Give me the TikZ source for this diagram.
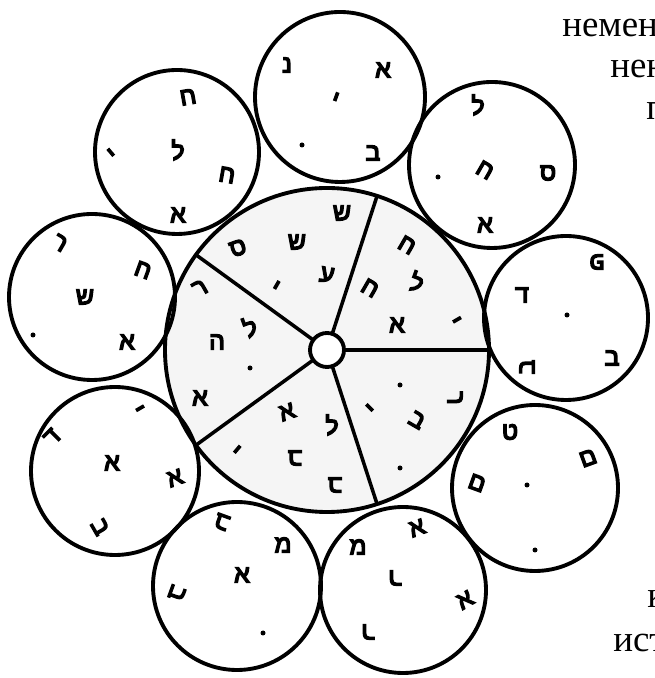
\documentclass[tikz,border=0pt]{standalone}
\usepackage{fontspec}
\newfontfamily\hebfont[Script=Hebrew, FakeBold=6]{Liberation Sans}
\newfontfamily\rusfont{Liberation Serif}

\begin{document}
\begin{tikzpicture}[x=0.02cm, y=0.02cm, line cap=round,
    ring/.style={circle, draw, line width=2.2pt, inner sep=0pt, outer sep=0pt, minimum size=2*#1*0.02cm},
    hl/.style={font=\hebfont\fontsize{14}{14}\selectfont, inner sep=0pt},
    ru/.style={font=\rusfont\fontsize{21}{21}\selectfont, inner sep=0pt, anchor=base west}]
        \def\wheelR{162} \def\hubR{17}
        \useasboundingbox (0,0) rectangle (654,678);
        \clip (0,0) rectangle (654,678);
        % central wheel
        \coordinate (O) at (327,328);
        \fill[black!4] (O) circle (\wheelR);
        \node[ring=\wheelR] (wheel) at (O) {};
        \node[ring=\hubR, fill=white] (hub) at (O) {};
        \draw[line width=2pt] (hub.0) -- (wheel.0);
        \draw[line width=2pt] (hub.72) -- (wheel.72);
        \draw[line width=2pt] (hub.144) -- (wheel.144);
        \draw[line width=2pt] (hub.216) -- (wheel.216);
        \draw[line width=2pt] (hub.288) -- (wheel.288);
        % outer rings
        \node[ring=85] (ring1) at (340,581) {};
        \node[ring=82] (ring2) at (177,526) {};
        \node[ring=83] (ring3) at (92,381) {};
        \node[ring=84] (ring4) at (115,207) {};
        \node[ring=84] (ring5) at (237,92) {};
        \node[ring=83] (ring6) at (403,88) {};
        \node[ring=83] (ring7) at (535,190) {};
        \node[ring=82] (ring8) at (566,360) {};
        \node[ring=83] (ring9) at (492,513) {};
        % letters of the wheel
        \node[hl, rotate=20] (s1) at (238,430) {ס};
        \node[hl] (s2) at (297,436) {ש};
        \node[hl] (s3) at (342,465) {ש};
        \node[hl, rotate=-10] (s4) at (327,403) {ע};
        \node[hl, rotate=-30] (s5) at (275,390) {י};
        \node[hl, rotate=-30] (r1) at (407,433) {ח};
        \node[hl, rotate=-30] (r2) at (370,390) {ח};
        \node[hl, rotate=-20] (r3) at (417,396) {ל};
        \node[hl] (r4) at (397,353) {א};
        \node[hl, rotate=120] (r5) at (460,360) {י};
        \fill (400,293) circle (2.5) (400,210) circle (2.5);
        \node[hl, rotate=-90] (q1) at (455,280) {ר};
        \node[hl, rotate=45] (q2) at (372,268) {י};
        \node[hl, rotate=-30] (q3) at (417,258) {ב};
        \node[hl, rotate=20] (l1) at (287,266) {א};
        \node[hl] (l2) at (332,253) {ל};
        \node[hl, rotate=-40] (l3) at (235,226) {י};
        \node[hl, rotate=180] (l4) at (295,220) {ב};
        \node[hl, rotate=180] (l5) at (335,193) {ב};
        \node[hl, rotate=30] (f1) at (200,390) {ר};
        \node[hl, rotate=20] (f2) at (250,351) {ל};
        \node[hl] (f3) at (217,336) {ה};
        \fill (250,310) circle (2.5);
        \node[hl] (f4) at (200,280) {א};
        % letters of the rings
        \node[hl] (a1) at (287,613) {נ};
        \node[hl] (a2) at (383,608) {א};
        \node[hl, rotate=-20] (a3) at (335,578) {י};
        \fill (302,533) circle (2.5);
        \node[hl] (a4) at (373,525) {ב};
        \node[hl, rotate=10] (b1) at (188,581) {ח};
        \node[hl] (b2) at (178,528) {ל};
        \node[hl, rotate=-10] (b3) at (227,503) {ח};
        \node[hl, rotate=40] (b4) at (113,523) {י};
        \node[hl] (b5) at (178,463) {א};
        \node[hl, rotate=-30] (c1) at (60,435) {ר};
        \node[hl, rotate=-20] (c2) at (143,408) {ח};
        \node[hl] (c3) at (85,381) {ש};
        \fill (33,343) circle (2.5);
        \node[hl] (c4) at (127,336) {א};
        \node[hl, rotate=-60] (d1) at (137,268) {י};
        \node[hl, rotate=45] (d2) at (52,241) {ד};
        \node[hl] (d3) at (112,215) {א};
        \node[hl, rotate=20] (d4) at (175,200) {א};
        \node[hl, rotate=-60] (d5) at (100,151) {ב};
        \node[hl, rotate=160] (e1) at (222,156) {ב};
        \node[hl] (e2) at (283,133) {מ};
        \node[hl] (e3) at (242,103) {א};
        \node[hl, rotate=-110] (e4) at (177,85) {ב};
        \fill (263,45) circle (2.5);
        \node[hl, rotate=20] (g1) at (417,150) {א};
        \node[hl] (g2) at (358,131) {מ};
        \node[hl, rotate=180] (g3) at (395,100) {ר};
        \node[hl, rotate=30] (g4) at (465,78) {א};
        \node[hl, rotate=180] (g5) at (368,46) {ר};
        \node[hl] (h1) at (510,246) {ט};
        \node[hl, rotate=20] (h2) at (588,220) {ם};
        \node[hl, rotate=-20] (h3) at (477,195) {ם};
        \fill (527,193) circle (2.5) (535,128) circle (2.5);
        \node[hl, rotate=180] (i1) at (597,416) {פ};
        \node[hl] (i2) at (522,383) {ד};
        \fill (567,363) circle (2.5);
        \node[hl, rotate=90] (i3) at (527,311) {ב};
        \node[hl] (i4) at (612,320) {ב};
        \node[hl] (j1) at (478,573) {ל};
        \node[hl, rotate=-30] (j2) at (485,508) {ח};
        \fill (438,501) circle (2.5);
        \node[hl] (j3) at (548,505) {ס};
        \node[hl] (j4) at (485,453) {א};
        % text cut off at the right edge, as in the scan
        \node[ru] (t1) at (562,641) {немен};
        \node[ru] (t2) at (610,600) {нен};
        \node[ru] (t3) at (646,558) {п};
        \node[ru] (t4) at (647,70) {к};
        \node[ru] (t5) at (613,26) {ист};
    \end{tikzpicture}
\end{document}
